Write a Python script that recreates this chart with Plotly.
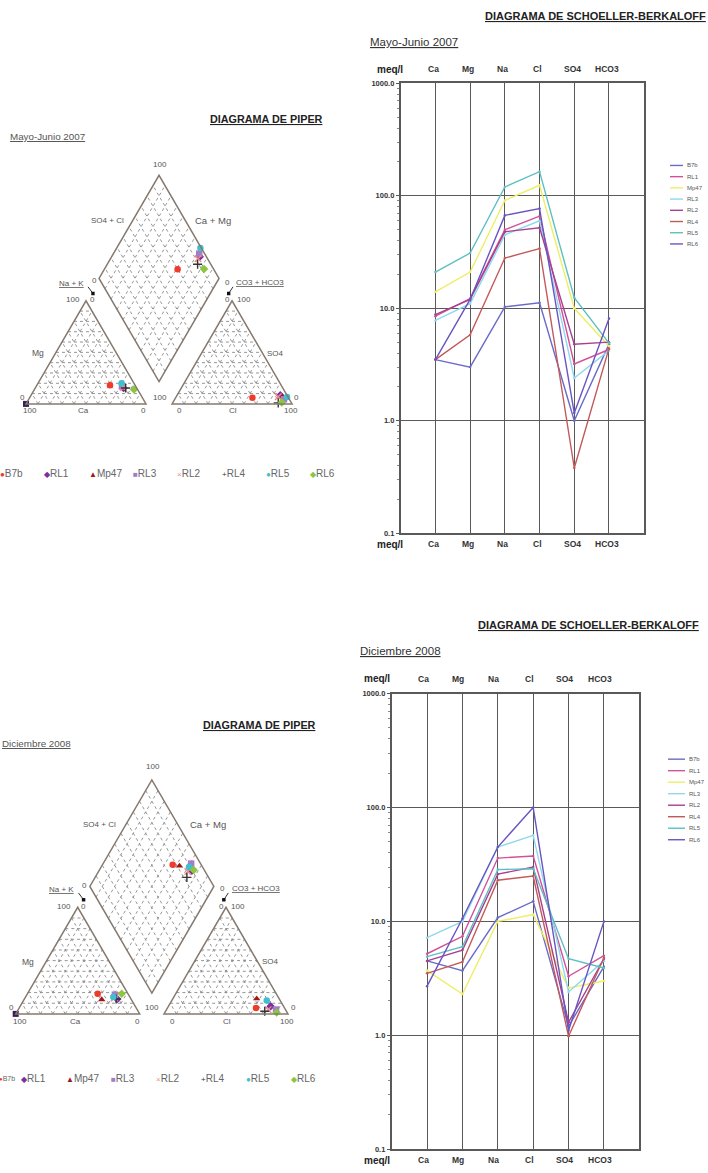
import math
import plotly.graph_objects as go

W, H = 708, 1173
FONT = "Liberation Sans"

# ---------------- DATA ----------------
categories = ["Ca", "Mg", "Na", "Cl", "SO4", "HCO3"]
series = ["B7b", "RL1", "Mp47", "RL3", "RL2", "RL4", "RL5", "RL6"]

# Schoeller-Berkaloff, meq/l, Mayo-Junio 2007 (Ca, Mg, Na, Cl, SO4, HCO3)
may07_B7b = [3.5, 3.0, 10.3, 11.2, 1.0, 4.8]
may07_RL1 = [8.5, 12.2, 50, 66, 3.2, 4.3]
may07_Mp47 = [14, 21, 91, 124, 10, 4.6]
may07_RL3 = [7.8, 11, 45, 60, 2.4, 4.2]
may07_RL2 = [8.8, 12, 48, 52, 4.8, 5.0]
may07_RL4 = [3.5, 5.8, 28, 34, 0.38, 4.4]
may07_RL5 = [21, 31, 120, 164, 12.4, 4.9]
may07_RL6 = [3.5, 12, 67, 77, 1.17, 8.1]

# Schoeller-Berkaloff, meq/l, Diciembre 2008
dec08_B7b = [4.5, 3.7, 10.8, 15, 1.2, 4.0]
dec08_RL1 = [5.2, 7.4, 36, 37.5, 3.3, 5.0]
dec08_Mp47 = [3.7, 2.3, 10, 11.5, 2.6, 3.0]
dec08_RL3 = [7.2, 10, 45, 57, 2.4, 4.5]
dec08_RL2 = [4.5, 5.6, 26, 30, 1.3, 4.7]
dec08_RL4 = [3.5, 4.4, 23, 25, 0.98, 4.8]
dec08_RL5 = [4.9, 6.0, 28.5, 29, 4.7, 3.9]
dec08_RL6 = [2.7, 10.6, 45, 100, 1.1, 10]

y_tick_values = [0.1, 1, 10, 100, 1000]
y_tick_labels = ["0.1", "1.0", "10.0", "100.0", "1000.0"]

# Piper percentages (order of `series`)
piper07_Ca = [21, 11, 11, 11.5, 11, 9.3, 10.3, 3]
piper07_Mg = [18, 15.5, 17, 17, 16, 15.4, 20, 14]
piper07_Cl = [64, 86, 88, 91, 85, 88, 92.5, 90.8]
piper07_SO4 = [6, 8.4, 7, 4.5, 7, 1, 6.7, 1.3]

piper08_Ca = [24.4, 11.1, 23.9, 11, 13, 12, 13.4, 5]
piper08_Mg = [19, 14, 13.4, 18, 15, 14, 15.8, 19]
piper08_Cl = [71.4, 82.4, 67.6, 88.3, 82, 80, 76.6, 90.2]
piper08_SO4 = [5.6, 7.2, 14.3, 4.1, 4, 2.5, 12.5, 1.3]

# extra point sitting on the Ca vertex in both diagrams
piper_vertex_Ca = [100]
piper_vertex_Mg = [0]

# ---------------- STYLE ----------------
line_colors = {"B7b": "#6a6ac8", "RL1": "#d2509a", "Mp47": "#eeee66", "RL3": "#8fd8ee",
               "RL2": "#a8408f", "RL4": "#c35a5a", "RL5": "#5fbfc0", "RL6": "#6a55c0"}
piper_style = {"B7b": ("circle", "#ee3b2a", "●"), "RL1": ("diamond", "#7a2ea0", "◆"),
               "Mp47": ("triangle-up", "#a01818", "▲"), "RL3": ("square", "#a47cc8", "■"),
               "RL2": ("x-thin", "#f08a8a", "×"), "RL4": ("cross-thin", "#333333", "+"),
               "RL5": ("circle", "#3fbfd0", "●"), "RL6": ("diamond", "#8cc63f", "◆")}
GRID = "#595959"
SQ3 = math.sqrt(3) / 2


def PX(x):
    return x / W


def PY(y):
    return 1 - y / H


fig = go.Figure()
annotations = []
shapes = []


def ann(text, x, y, size, color="#333", xref="paper", yref="paper", xanchor="center",
        yanchor="middle", weight="normal", xshift=0):
    annotations.append(dict(text=text, x=x, y=y, xref=xref, yref=yref, showarrow=False,
                            xanchor=xanchor, yanchor=yanchor, xshift=xshift,
                            font=dict(family=FONT, size=size, color=color, weight=weight)))


# ---------------- SCHOELLER ----------------
sch_panels = [
    dict(ax="", x0=400.7, x1=643.7, y0=80, y1=533.3, data=[may07_B7b, may07_RL1, may07_Mp47, may07_RL3,
         may07_RL2, may07_RL4, may07_RL5, may07_RL6],
         title_xy=(595, 12), period="Mayo-Junio 2007", period_xy=(368, 38),
         head_y=66, foot_y=544.3, xshift=-2, meq_px=390,
         leg_x=(670, 683), leg_y0=162.7, leg_dy=11.3),
    dict(ax="2", x0=391.7, x1=639.3, y0=695, y1=1154, data=[dec08_B7b, dec08_RL1, dec08_Mp47, dec08_RL3,
         dec08_RL2, dec08_RL4, dec08_RL5, dec08_RL6],
         title_xy=(588, 626), period="Diciembre 2008", period_xy=(358, 652),
         head_y=680, foot_y=1165, xshift=-4, meq_px=377,
         leg_x=(668, 685), leg_y0=761, leg_dy=11.6),
]

minor_vals = [m * 10 ** k for k in range(-1, 3) for m in range(2, 10)]
xpos = list(range(1, len(categories) + 1))

for p in sch_panels:
    ax = p["ax"]
    xa = "xaxis" + ax
    ya = "yaxis" + ax
    fig.update_layout(**{
        xa: dict(domain=[PX(p["x0"]), PX(p["x1"])], range=[0, len(categories) + 1],
                 tickvals=xpos, showticklabels=False, showgrid=True, gridcolor=GRID, gridwidth=1.4,
                 showline=True, mirror=True, linecolor=GRID, linewidth=1.6, zeroline=False,
                 ticks="", anchor="y" + ax, fixedrange=True),
        ya: dict(domain=[PY(p["y1"]), PY(p["y0"])], type="log", range=[-1, 3],
                 tickvals=y_tick_values, ticktext=y_tick_labels,
                 tickfont=dict(family=FONT, size=7.5, color="#333", weight="bold"),
                 showgrid=True, gridcolor=GRID, gridwidth=1.4, showline=True, mirror=True,
                 linecolor=GRID, linewidth=1.6, ticks="outside", ticklen=3, tickcolor=GRID,
                 minor=dict(tickvals=minor_vals, ticks="outside", ticklen=2, tickcolor="#888",
                            showgrid=False),
                 zeroline=False, anchor="x" + ax, fixedrange=True),
    })
    for name, vals in zip(series, p["data"]):
        fig.add_trace(go.Scatter(x=xpos, y=vals, mode="lines+markers", name=name,
                                 line=dict(color=line_colors[name], width=1.4),
                                 marker=dict(size=2.5, color=line_colors[name]),
                                 xaxis="x" + ax, yaxis="y" + ax, showlegend=False,
                                 hoverinfo="skip"))
    # titles
    tx, ty = p["title_xy"]
    ann("<u>DIAGRAMA DE SCHOELLER-BERKALOFF</u>", PX(tx), PY(ty), 11, "#222", weight="bold")
    px_, py_ = p["period_xy"]
    ann("<u>" + p["period"] + "</u>", PX(px_), PY(py_), 11.5, "#333", xanchor="left")
    # header & footer labels
    for yy in (p["head_y"], p["foot_y"]):
        ann("meq/l", PX(p["meq_px"]), PY(yy), 10, "#222", weight="bold")
        for i, c in enumerate(categories):
            ann(c, xpos[i], PY(yy), 8.5, "#333", xref="x" + ax, weight="bold", xshift=p["xshift"])
    # legend
    for i, name in enumerate(series):
        yy = p["leg_y0"] + i * p["leg_dy"]
        shapes.append(dict(type="line", xref="paper", yref="paper", x0=PX(p["leg_x"][0]),
                           x1=PX(p["leg_x"][1]), y0=PY(yy), y1=PY(yy),
                           line=dict(color=line_colors[name], width=1.4)))
        ann(name, PX(p["leg_x"][1] + 2), PY(yy), 6, "#555", xanchor="left")

# ---------------- PIPER ----------------
piper_panels = [
    dict(ax="3", ox=26, oy=403, s=1.2, g=21.7, dom=(0, 360, 140, 425),
         Ca=piper07_Ca, Mg=piper07_Mg, Cl=piper07_Cl, SO4=piper07_SO4,
         title_xy=(266, 116), period="Mayo-Junio 2007", period_xy=(8, 134),
         leg_y=473, leg_x0=-2, leg_dx=44.3, squeeze_first=False),
    dict(ax="4", ox=15.7, oy=1017.7, s=1.24, g=19.6, dom=(0, 360, 755, 1040),
         Ca=piper08_Ca, Mg=piper08_Mg, Cl=piper08_Cl, SO4=piper08_SO4,
         title_xy=(259.5, 726.7), period="Diciembre 2008", period_xy=(0, 745),
         leg_y=1082.7, leg_x0=-26, leg_dx=45, squeeze_first=True),
]

# label positions in Piper units: (text, u, v, side, size); side 0=cations, 1=diamond, 2=anions
piper_labels = [
    ("100", 100.85, 200.8, 1, 8), ("SO4 + Cl", 57.45, 154.2, 1, 8), ("Ca + Mg", 144.95, 154.2, 1, 9.5),
    ("<u>Na + K</u>", 27.45, 101, 1, 8), ("0", 45.85, 104, 1, 8), ("0", 156.65, 101.7, 1, 8),
    ("<u>CO3 + HCO3</u>", 183.75, 101.7, 1, 8),
    ("100", 39.2, 87.5, 0, 8), ("0", 55, 87.5, 0, 8), ("0", 146.6, 87.5, 2, 8), ("100", 160, 87.5, 2, 8),
    ("Mg", 10, 42.5, 0, 8.5), ("0", -3.3, 5, 0, 8), ("100", 3.3, -5.8, 0, 8), ("Ca", 48.3, -5.8, 0, 8),
    ("0", 98.3, -5.8, 0, 8), ("CATIONES", 50.8, -20, 0, 8),
    ("100", 90, 5, 2, 8), ("0", 106.6, -5.8, 2, 8), ("Cl", 150.8, -5.8, 2, 8), ("100", 199.1, -5.8, 2, 8),
    ("0", 204.1, 5, 2, 8), ("SO4", 185.8, 42.5, 2, 8), ("ANIONES", 155, -20, 2, 8),
]

OUT = "#85796f"
for p in piper_panels:
    ax, g, s = p["ax"], p["g"], p["s"]
    x0, x1, y0, y1 = p["dom"]
    fig.update_layout(**{
        "xaxis" + ax: dict(domain=[PX(x0), PX(x1)], range=[(x0 - p["ox"]) / s, (x1 - p["ox"]) / s],
                           visible=False, fixedrange=True, anchor="y" + ax),
        "yaxis" + ax: dict(domain=[PY(y1), PY(y0)], range=[(p["oy"] - y1) / s, (p["oy"] - y0) / s],
                           visible=False, fixedrange=True, anchor="x" + ax),
    })
    xr, yr = "x" + ax, "y" + ax
    hgt = 100 * SQ3
    B = (100 + g / 2, g * SQ3)
    # grid lines
    gx, gy = [], []
    for k in range(1, 10):
        t = 10 * k
        for off in (0, 100 + g):
            segs = [((off + t / 2, t * SQ3), (off + 100 - t / 2, t * SQ3)),
                    ((off + t, 0), (off + t + (100 - t) / 2, (100 - t) * SQ3)),
                    ((off + t, 0), (off + t / 2, t * SQ3))]
            for a, b in segs:
                gx += [a[0], b[0], None]
                gy += [a[1], b[1], None]
        a = (B[0] + t * 0.5, B[1] + t * SQ3)
        b = (a[0] - 50, a[1] + hgt)
        gx += [a[0], b[0], None]
        gy += [a[1], b[1], None]
        a = (B[0] - t * 0.5, B[1] + t * SQ3)
        b = (a[0] + 50, a[1] + hgt)
        gx += [a[0], b[0], None]
        gy += [a[1], b[1], None]
    fig.add_trace(go.Scatter(x=gx, y=gy, mode="lines", line=dict(color="#8a8a8a", width=0.9, dash="dot"),
                             xaxis=xr, yaxis=yr, showlegend=False, hoverinfo="skip"))
    # outlines
    polys = [[(0, 0), (100, 0), (50, hgt)],
             [(100 + g, 0), (200 + g, 0), (150 + g, hgt)],
             [B, (150 + g / 2, (g + 100) * SQ3), (100 + g / 2, (g + 200) * SQ3), (50 + g / 2, (g + 100) * SQ3)]]
    for poly in polys:
        path = "M " + " L ".join(f"{x:.3f},{y:.3f}" for x, y in poly) + " Z"
        shapes.append(dict(type="path", path=path, xref=xr, yref=yr, line=dict(color=OUT, width=1.5)))
    # labels
    for text, u, v, side, size in piper_labels:
        uu = u + (g / 2 if side == 1 else g if side == 2 else 0)
        ann(text, uu, v, size, "#555", xref=xr, yref=yr)
    # arrows to black dots near Na+K and CO3+HCO3
    for (ux0, vy0, ux1, vy1) in [(40.85, 98.3, 44.95, 92.75), (161.65, 98.3, 158.05, 92.75)]:
        shapes.append(dict(type="line", xref=xr, yref=yr, x0=ux0 + g / 2, y0=vy0, x1=ux1 + g / 2, y1=vy1,
                           line=dict(color="#333", width=1)))
        shapes.append(dict(type="rect", xref=xr, yref=yr, x0=ux1 + g / 2 - 1.4, x1=ux1 + g / 2 + 1.4,
                           y0=vy1 - 1.4, y1=vy1 + 1.4, fillcolor="#111", line=dict(width=0)))
    # data points
    vx = [100 - c - m / 2 for c, m in zip(piper_vertex_Ca, piper_vertex_Mg)]
    vy = [m * SQ3 for m in piper_vertex_Mg]
    fig.add_trace(go.Scatter(x=vx, y=vy, mode="markers", xaxis=xr, yaxis=yr, showlegend=False,
                             marker=dict(symbol="square", size=6, color="#3b1d55"), cliponaxis=False,
                             hoverinfo="skip"))
    for i, name in enumerate(series):
        ca, mg, cl, so4 = p["Ca"][i], p["Mg"][i], p["Cl"][i], p["SO4"][i]
        na = 100 - ca - mg
        hco3 = 100 - cl - so4
        xs = [100 - ca - mg / 2, 100 + g + cl + so4 / 2, (200 + g - hco3 + na) / 2]
        ys = [mg * SQ3, so4 * SQ3, SQ3 * (200 + g - hco3 - na)]
        sym, col, _ = piper_style[name]
        thin = sym.endswith("thin")
        fig.add_trace(go.Scatter(x=xs, y=ys, mode="markers", name=name, xaxis=xr, yaxis=yr,
                                 showlegend=False, cliponaxis=False, hoverinfo="skip",
                                 marker=dict(symbol=sym, size=6.5, color=col,
                                             line=dict(color=col, width=1.4 if thin else 0))))
    # titles
    tx, ty = p["title_xy"]
    ann("<u>DIAGRAMA DE PIPER</u>", PX(tx), PY(ty), 10.8, "#222", weight="bold")
    ppx, ppy = p["period_xy"]
    ann("<u>" + p["period"] + "</u>", PX(ppx), PY(ppy), 9.8, "#555", xanchor="left")
    # legend row
    for i, name in enumerate(series):
        _, col, glyph = piper_style[name]
        lx = p["leg_x0"] + i * p["leg_dx"]
        if i == 0 and p["squeeze_first"]:
            # first entry sits at the left edge: keep it fully visible just before the next one
            ann(f"<span style='color:{col};font-size:6px'>{glyph}</span>{name}",
                PX(p["leg_x0"] + p["leg_dx"] - 2), PY(p["leg_y"]), 7, "#666", xanchor="right")
            continue
        ann(f"<span style='color:{col};font-size:8px'>{glyph}</span>{name}", PX(lx), PY(p["leg_y"]),
            10, "#666", xanchor="left")

fig.update_layout(width=W, height=H, margin=dict(l=0, r=0, t=0, b=0),
                  paper_bgcolor="white", plot_bgcolor="white", showlegend=False,
                  annotations=annotations, shapes=shapes, font=dict(family=FONT))

fig.write_html("out.html", config={"displayModeBar": False},
               post_script="document.body.style.margin='0';")
